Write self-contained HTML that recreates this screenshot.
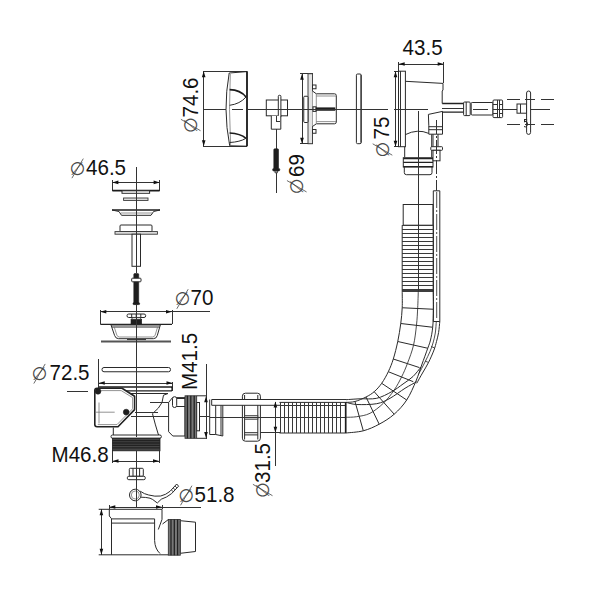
<!DOCTYPE html>
<html lang="en">
<head>
<meta charset="utf-8">
<title>Bath waste and overflow set - dimensional drawing</title>
<style>
html,body{margin:0;padding:0;background:#fff;}
body{width:600px;height:601px;overflow:hidden;}
svg{display:block;}
.l{fill:none;stroke:#2a2a2a;stroke-width:1;}
.w{fill:#fff;stroke:#2a2a2a;stroke-width:1;}
.g{fill:none;stroke:#777;stroke-width:0.8;}
.c{fill:none;stroke:#3a3a3a;stroke-width:1;shape-rendering:crispEdges;}
.n{fill:none;stroke:#333;stroke-width:1;shape-rendering:crispEdges;}
.nc{fill:none;stroke:#2c2c2c;stroke-width:0.85;}
.m{fill:none;stroke:#222;stroke-width:1.3;}
.gk{fill:none;stroke:#555;stroke-width:2;}
.wk{fill:#fff;stroke:#222;stroke-width:1.6;stroke-linejoin:round;}
.k{fill:none;stroke:#1c1c1c;stroke-width:1.7;}
.b{fill:#1e1e1e;stroke:#1e1e1e;stroke-width:0.6;}
.th{fill:#787878;stroke:#2a2a2a;stroke-width:0.8;}
.f{fill:#e4e4e4;stroke:#333;stroke-width:0.9;}
.a{fill:#111;stroke:none;}
.ds{fill:none;stroke:#444;stroke-width:0.8;}
.td{fill:#454545;stroke:#1c1c1c;stroke-width:0.8;}
.tx{font-family:"Liberation Sans",Arial,Helvetica,sans-serif;fill:#111;}
.dia{font-family:"DejaVu Sans","Liberation Sans",sans-serif;fill:#4a4a4a;}
</style>
</head>
<body>
<svg width="600" height="601" viewBox="0 0 600 601" role="img" aria-label="Exploded dimensional drawing of a bath waste and overflow set">
<rect x="0" y="0" width="600" height="601" fill="#fff"/>
<g id="knob">
<path class="n" d="M202.5,71.3 H247 M202.5,146.3 H247"/>
<path class="n" d="M203.7,71.3 V146.3"/>
<polygon class="a" points="203.70,71.30 201.90,77.30 205.50,77.30"/>
<polygon class="a" points="203.70,146.30 201.90,140.30 205.50,140.30"/>
<path class="l" d="M229.2,73 L247,71.6 V146.2 L229.7,145.8 Q222.6,109.5 229.2,73 Z"/>
<path class="g" d="M230.3,74 Q228.6,109.5 230.6,145"/>
<path class="k" d="M247,71.3 V146.3"/>
<path class="k" d="M229.6,89.7 Q240.5,90 246,97"/>
<path class="l" d="M246,97 Q240,104 229.6,105.3"/>
<path class="k" d="M229.6,133 Q240.5,133.5 246,138.3"/>
<path class="l" d="M246,138.3 Q240,142 229.6,142.5"/>
<g transform="translate(190.70 125.00) rotate(-90)"><text class="dia" x="-7.84" y="6.30" font-size="18">∅</text><path class="ds" d="M-5.7,9.8 L5.7,-9.8"/></g>
<text class="tx" transform="translate(198.30 117.50) rotate(-90) scale(1 1.045)" font-size="20.6">74.6</text>
</g>
<g id="clip">
<rect class="w" x="266.30" y="100.00" width="21.20" height="15.80"/>
<rect class="w" x="278.30" y="95.30" width="2.60" height="22.20" rx="1.00"/>
<path class="w" d="M271.3,115.8 V129.2 H280.8 V115.8"/>
<path class="n" d="M276,116 V121 H279.5"/>
<path class="n" d="M266.3,109 H287.5"/>
<path class="n" d="M276.2,129.2 V148.5 M276.2,172 V192.5"/>
<rect class="b" x="273.80" y="148.80" width="4.70" height="20.20" rx="1.00"/>
<rect class="b" x="272.60" y="168.40" width="7.20" height="2.60" rx="1.20"/>
<path class="f" d="M275,171 H277.4 V172.8 H275 Z"/>
</g>
<g id="flange69">
<path class="n" d="M300,73.75 H312.5 M300,143.75 H312.5"/>
<path class="n" d="M302,73.75 V143.75"/>
<polygon class="a" points="302.00,73.75 300.20,79.75 303.80,79.75"/>
<polygon class="a" points="302.00,143.75 300.20,137.75 303.80,137.75"/>
<rect class="f" x="308.00" y="73.75" width="4.50" height="70.00"/>
<rect class="w" x="303.75" y="96.25" width="4.25" height="26.25" rx="1.00"/>
<path class="w" d="M312.5,91 L316.3,93.8 H334.5 Q336.3,93.8 336.3,95.5 V122 Q336.3,123.8 334.5,123.8 H316.3 L312.5,126.5"/>
<path class="g" d="M316.3,93.8 V123.8 M316.3,96 H336 M316.3,121.6 H336"/>
<rect class="w" x="312.50" y="85.00" width="3.50" height="3.75"/>
<rect class="w" x="312.50" y="129.50" width="3.50" height="3.75"/>
<rect class="w" x="313.00" y="106.80" width="3.00" height="4.60"/>
<rect class="b" x="316.00" y="107.80" width="19.00" height="2.60"/>
<path class="n" d="M303.75,109 H336"/>
<g transform="translate(296.75 186.25) rotate(-90)"><text class="dia" x="-7.84" y="6.30" font-size="18">∅</text><path class="ds" d="M-5.7,9.8 L5.7,-9.8"/></g>
<text class="tx" transform="translate(304.00 177.00) rotate(-90) scale(1 1.045)" font-size="20.6">69</text>
</g>
<g id="gasket">
<rect class="w" x="356.40" y="74.00" width="4.80" height="69.70" rx="1.20"/>
<path class="l" d="M361,75 V142.7"/>
<path class="n" d="M356,109 H362"/>
</g>
<g id="overflow">
<text class="tx" transform="translate(402.60 55.00) scale(1 1.045)" font-size="20.6">43.5</text>
<path class="n" d="M398.7,61.7 V71.2 M443.7,61.7 V83.3"/>
<path class="n" d="M398.7,64 H443.7"/>
<polygon class="a" points="398.70,64.00 404.70,62.20 404.70,65.80"/>
<polygon class="a" points="443.70,64.00 437.70,62.20 437.70,65.80"/>
<g transform="translate(382.50 149.50) rotate(-90)"><text class="dia" x="-7.84" y="6.30" font-size="18">∅</text><path class="ds" d="M-5.7,9.8 L5.7,-9.8"/></g>
<text class="tx" transform="translate(389.20 139.50) rotate(-90) scale(1 1.045)" font-size="20.6">75</text>
<path class="n" d="M393.7,71.2 H399 M393.7,146.7 H399"/>
<path class="n" d="M395.5,71.2 V146.7"/>
<polygon class="a" points="395.50,71.20 393.70,77.20 397.30,77.20"/>
<polygon class="a" points="395.50,146.70 393.70,140.70 397.30,140.70"/>
<rect class="w" x="398.50" y="71.20" width="6.90" height="75.50"/>
<path class="n" d="M400.6,71.2 V146.7"/>
<path class="l" d="M405.4,81.3 L443,83.4 V90 L442.2,91 V103.5"/>
<path class="l" d="M405.4,134.6 Q417.5,128.5 428.8,133.4"/>
<path class="l" d="M404.7,146.7 V157.5 M431.7,134.2 V157.5"/>
<path class="w" d="M428.4,114.4 L442.5,111.4 V134.2 H428.8 V125.8 Z"/>
<path class="l" d="M428.8,126.7 H442.5 M428.8,129.7 H442.5"/>
<rect class="w" x="403.30" y="157.70" width="29.70" height="9.30"/>
<path class="m" d="M403.3,158.6 H433 M403.3,162.4 H433 M403.3,166.6 H433"/>
<path class="l" d="M404.3,167 V172.6 Q404.3,174.7 406.5,174.7 H430 Q432,174.7 432,172.6 V167"/>
<path class="l" d="M433,134.2 V146.7 M438,134.2 V146.7"/>
<rect class="w" x="430.80" y="146.70" width="11.70" height="3.60" rx="0.80"/>
<rect class="w" x="433.00" y="150.30" width="7.00" height="10.50"/>
<path class="n" d="M418.4,110.5 V225"/>
<path class="n" d="M436.7,120 V205" stroke-dasharray="14 2 2 2"/>
<path class="w" d="M433.3,321.5 V190.8 H439.8 V321.5"/>
<path class="nc" d="M436.7,192 V320" stroke-dasharray="16 2 2 2"/>
<rect class="l" x="403.20" y="204.50" width="29.80" height="20.70"/>
</g>
<g id="cable">
<path class="m" d="M442.2,103.5 H463.6 M442.2,112.2 H463.6"/>
<path class="n" d="M442.2,108.8 H463.6"/>
<rect class="w" x="463.60" y="102.00" width="6.60" height="13.60" rx="1.00"/>
<path class="l" d="M466.2,102 V115.6"/>
<rect class="w" x="471.20" y="102.50" width="21.80" height="12.50" rx="1.00"/>
<rect class="w" x="493.00" y="100.00" width="9.60" height="17.60" rx="1.00"/>
<path class="n" d="M497,100 V117.6 M499.2,100 V117.6 M493,104 H497 M499.2,104 H502.6 M493,113.2 H497 M499.2,113.2 H502.6"/>
<path class="n" d="M473,109 H488 M492.5,109 H550"/>
<rect class="w" x="517.00" y="104.00" width="9.60" height="9.20"/>
<path class="n" d="M520,104 V113.2"/>
<rect class="w" x="526.60" y="91.00" width="4.00" height="43.40" rx="2.00"/>
<path class="n" d="M507,99.3 H520 M525,99.3 H534.5 M541,99.3 H554"/>
<path class="n" d="M507,124.6 H520 M525,124.6 H534.5 M541,124.6 H554"/>
<path class="l" d="M524,122 Q527,120 527.5,124 Q527,128 524,126.5"/>
<rect class="l" x="524.50" y="119.50" width="2.10" height="2.00"/>
</g>
<g id="plug">
<g transform="translate(77.60 168.40)"><text class="dia" x="-7.84" y="6.30" font-size="18">∅</text><path class="ds" d="M-5.7,9.8 L5.7,-9.8"/></g>
<text class="tx" transform="translate(86.00 175.00) scale(1 1.045)" font-size="20.6">46.5</text>
<path class="n" d="M112.4,180 V190.6 M159.6,180 V190.6"/>
<path class="n" d="M112.4,182.4 H159.6"/>
<polygon class="a" points="112.40,182.40 118.40,180.60 118.40,184.20"/>
<polygon class="a" points="159.60,182.40 153.60,180.60 153.60,184.20"/>
<path class="k" d="M112.4,190.6 H159.6"/>
<rect class="w" x="122.00" y="190.80" width="27.60" height="2.50"/>
<rect class="f" x="123.60" y="198.00" width="24.40" height="2.40"/>
<path class="k" d="M112,210 H160"/>
<path class="l" d="M112,210 L119,211.5 L121.5,215.3 H151 L153.6,211.5 L160,210"/>
<path class="g" d="M121,213 H152"/>
<rect class="w" x="120.00" y="225.00" width="32.00" height="6.60" rx="1.00"/>
<rect class="f" x="115.00" y="231.60" width="42.40" height="2.60"/>
<rect class="w" x="132.00" y="234.20" width="8.50" height="32.10"/>
<rect class="b" x="133.80" y="273.50" width="4.90" height="30.80" rx="1.00"/>
<rect class="w" x="131.70" y="278.20" width="9.30" height="3.60" rx="0.80"/>
<rect class="b" x="133.00" y="302.80" width="6.60" height="1.80" rx="0.60"/>
</g>
<g id="strainer">
<g transform="translate(182.50 299.00)"><text class="dia" x="-7.84" y="6.30" font-size="18">∅</text><path class="ds" d="M-5.7,9.8 L5.7,-9.8"/></g>
<text class="tx" transform="translate(190.50 305.00) scale(1 1.045)" font-size="20.6">70</text>
<path class="n" d="M100.3,311.7 H210"/>
<polygon class="a" points="100.30,311.70 106.30,309.90 106.30,313.50"/>
<polygon class="a" points="172.00,311.70 166.00,309.90 166.00,313.50"/>
<path class="n" d="M100.3,309.5 V324.4 M172,309.5 V324.4"/>
<path class="m" d="M100.3,324.4 H172"/>
<rect class="w" x="127.00" y="314.00" width="18.70" height="3.50" rx="1.70"/>
<path class="l" d="M131.7,314 V317.5 M136.2,314 V317.5 M140.8,314 V317.5"/>
<rect class="b" x="131.00" y="319.40" width="10.70" height="4.80"/>
<rect class="f" x="132.00" y="317.40" width="8.70" height="2.00"/>
<path class="w" d="M111,325 L114.6,335.5 Q115.6,338.7 118.6,338.7 H153.4 Q156.4,338.7 157.3,335.5 L160.3,325 Z"/>
<path class="l" d="M112,327 H159.5"/>
<path class="g" d="M114.2,327 L116.8,335 Q117.5,337 119.5,337 H152.5 Q154.5,337 155.2,335 L157.6,327"/>
<path class="l" d="M127,339.6 H146"/>
<path class="gk" d="M101,341.6 H171"/>
<rect class="w" x="102.00" y="367.50" width="68.50" height="4.25" rx="2.00"/>
</g>
<g id="body">
<g transform="translate(39.50 373.75)"><text class="dia" x="-7.84" y="6.30" font-size="18">∅</text><path class="ds" d="M-5.7,9.8 L5.7,-9.8"/></g>
<text class="tx" transform="translate(49.50 380.00) scale(1 1.045)" font-size="20.6">72.5</text>
<path class="n" d="M98.75,358.75 V390 M172.5,381.5 V391"/>
<path class="n" d="M98.75,383 H172.5"/>
<polygon class="a" points="98.75,383.00 104.75,381.20 104.75,384.80"/>
<polygon class="a" points="172.50,383.00 166.50,381.20 166.50,384.80"/>
<path class="n" d="M67,391.25 H87.5"/>
<text class="tx" transform="translate(197.00 390.00) rotate(-90) scale(1 1.045)" font-size="20.6">M41.5</text>
<path class="n" d="M206,363.75 V438.5"/>
<polygon class="a" points="206.00,396.20 204.20,402.20 207.80,402.20"/>
<polygon class="a" points="206.00,438.00 204.20,432.00 207.80,432.00"/>
<path class="k" d="M99,387 H172.5"/>
<path class="m" d="M101,390.8 H171.5 Q173,389 171.5,387"/>
<path class="l" d="M129,393.5 H168"/>
<path class="l" d="M168,393.5 L163.5,395.2 L162,402.5 Q159.5,408 152.5,413.7 Q155,424 158.4,434.7"/>
<path class="n" d="M150,402.5 H168.5"/>
<path class="n" d="M135,412.2 H158 M130.5,416.2 H210"/>
<path class="wk" d="M97,388.2 H122 L134.6,396.2 V409.6 L118,426.8 H97 Q94.8,426.8 94.8,424.6 V390.4 Q94.8,388.2 97,388.2 Z"/>
<path class="g" d="M96,412.2 H114.7 M99,402.5 V423.5"/>
<path class="g" d="M97.5,390.6 H121.2 L132.6,397.6 V408.8 L117,424.6 H97.8"/>
<circle class="b" cx="98" cy="391.3" r="2.9"/>
<circle class="b" cx="126.2" cy="412.1" r="2.9"/>
<path class="l" d="M113.3,427.5 V435 M158.6,434 V435"/>
<rect class="w" x="111.00" y="435.00" width="50.40" height="3.20" rx="1.50"/>
<rect class="td" x="112.50" y="438.30" width="47.50" height="12.50"/>
<path class="m" d="M112.5,440.6 H160 M112.5,443 H160 M112.5,445.4 H160 M112.5,447.8 H160"/>
<path class="n" d="M112.5,450.8 V462.5 M159,450.8 V462.5"/>
<path class="n" d="M112.5,461 H159"/>
<polygon class="a" points="112.50,461.00 118.50,459.20 118.50,462.80"/>
<polygon class="a" points="159.00,461.00 153.00,459.20 153.00,462.80"/>
<text class="tx" transform="translate(51.50 461.50) scale(1 1.045)" font-size="20.6">M46.8</text>
<path class="w" d="M172.5,397.6 H185 V436 H172.8 L168.6,431.7 V402.5 Z"/>
<rect class="w" x="172.50" y="396.70" width="4.20" height="10.80" rx="2.00"/>
<path class="l" d="M176.7,398.5 H185 M176.7,406.5 H185"/>
<rect class="th" x="185.00" y="395.80" width="11.70" height="42.50"/>
<path class="m" d="M187.4,395.8 V438.3 M190.8,395.8 V438.3 M194.2,395.8 V438.3"/>
<path class="l" d="M196.7,395.8 H206 M196.7,438.3 H206"/>
<rect class="w" x="196.70" y="402.50" width="2.80" height="28.30"/>
</g>
<g id="pipe">
<path class="w" d="M209.7,399.5 V434.5 H215.7 L222.8,436 V405.2"/>
<path class="l" d="M215.7,405.2 V434.5 M221,405.2 V435.6"/>
<rect class="w" x="242.40" y="393.20" width="18.00" height="48.00" rx="3.00"/>
<path class="l" d="M244.6,395 V439.5 M257.8,395 V439.5"/>
<path class="l" d="M244.6,432.7 H257.8 M244.6,434.9 H257.8"/>
<rect class="f" x="244.60" y="415.70" width="13.20" height="3.50"/>
<path class="n" d="M210,417 H346"/>
<path class="w" d="M280,399.5 H211.7 V405.3 H280"/>
<path class="n" d="M280,399.4 H346 M280,405.6 H346"/>
<path class="n" d="M275.4,401.5 V466"/>
<polygon class="a" points="275.40,401.50 273.60,407.50 277.20,407.50"/>
<polygon class="a" points="275.40,432.70 273.60,426.70 277.20,426.70"/>
<path class="n" d="M260.4,432.7 H280"/>
<g transform="translate(262.70 490.00) rotate(-90)"><text class="dia" x="-7.84" y="6.30" font-size="18">∅</text><path class="ds" d="M-5.7,9.8 L5.7,-9.8"/></g>
<text class="tx" transform="translate(270.00 483.00) rotate(-90) scale(1 1.045)" font-size="20.6">31.5</text>
</g>
<g id="hose">
<path class="l" d="M279.5,402.4 H346 M279.5,433 H346"/>
<path class="c" d="M280.40,402.4 V433 M284.42,402.4 V433 M288.44,402.4 V433 M292.46,402.4 V433 M296.48,402.4 V433 M300.50,402.4 V433 M304.52,402.4 V433 M308.54,402.4 V433 M312.56,402.4 V433 M316.58,402.4 V433 M320.60,402.4 V433 M324.62,402.4 V433 M328.64,402.4 V433 M332.66,402.4 V433 M336.68,402.4 V433 M340.70,402.4 V433"/>
<path class="k" d="M345.7,402.4 V433"/>
<path class="l" d="M402.2,225.2 V291 M433.3,225.2 V291"/>
<path class="c" d="M402.2,225.20 H433.3 M402.2,229.20 H433.3 M402.2,233.20 H433.3 M402.2,237.20 H433.3 M402.2,241.20 H433.3 M402.2,245.20 H433.3 M402.2,249.20 H433.3 M402.2,253.20 H433.3 M402.2,257.20 H433.3 M402.2,261.20 H433.3 M402.2,265.20 H433.3 M402.2,269.20 H433.3 M402.2,273.20 H433.3 M402.2,277.20 H433.3 M402.2,281.20 H433.3 M402.2,285.20 H433.3 M402.2,289.20 H433.3"/>
<path class="k" d="M402.2,291 H433.3"/>
<path class="n" d="M418.5,225 V291"/>
<path class="l" d="M402.20,291.00 C402.20,293.79 402.44,302.33 402.20,307.75 C401.96,313.17 401.49,317.88 400.75,323.50 C400.01,329.12 398.99,335.58 397.75,341.50 C396.51,347.42 394.88,353.97 393.30,359.00 C391.73,364.03 390.23,367.65 388.30,371.70 C386.37,375.75 384.05,379.97 381.70,383.30 C379.35,386.63 376.82,389.42 374.20,391.70 C371.58,393.98 369.20,395.37 366.00,397.00 C362.80,398.63 358.33,400.60 355.00,401.50 C351.67,402.40 347.50,402.25 346.00,402.40"/>
<path class="nc" d="M418.30,291.00 C418.20,293.79 418.00,302.08 417.70,307.75 C417.40,313.42 417.20,318.75 416.50,325.00 C415.80,331.25 415.00,338.87 413.50,345.25 C412.00,351.63 409.47,358.06 407.50,363.30 C405.53,368.54 403.92,372.25 401.70,376.70 C399.48,381.15 397.27,385.57 394.20,390.00 C391.13,394.43 387.33,399.42 383.30,403.30 C379.27,407.18 374.43,411.07 370.00,413.30 C365.57,415.53 360.70,416.03 356.70,416.70 C352.70,417.37 347.78,417.20 346.00,417.30"/>
<path class="l" d="M433.30,291.00 C433.33,294.04 433.60,303.21 433.50,309.25 C433.40,315.29 433.20,322.12 432.70,327.25 C432.20,332.38 431.32,336.50 430.50,340.00 C429.68,343.50 429.22,344.08 427.75,348.25 C426.28,352.42 423.66,359.54 421.70,365.00 C419.74,370.46 418.50,375.17 416.00,381.00 C413.50,386.83 410.33,394.47 406.70,400.00 C403.07,405.53 398.78,410.17 394.20,414.20 C389.62,418.23 384.35,421.43 379.20,424.20 C374.05,426.97 368.83,429.33 363.30,430.80 C357.77,432.27 348.88,432.63 346.00,433.00"/>
<path class="l" d="M402.20,307.75 L433.50,309.25 M400.75,323.50 L432.70,327.25 M397.75,341.50 L427.75,348.25 M393.30,359.00 L419.50,367.60 M388.30,371.70 L413.30,381.70 M381.70,383.30 L406.70,400.00 M374.20,391.70 L394.20,414.20 M366.00,397.00 L379.20,424.20 M355.00,401.50 L363.30,430.80"/>
<path class="l" d="M439.80,321.50 C439.60,323.33 439.15,329.17 438.60,332.50 C438.05,335.83 437.27,338.58 436.50,341.50 C435.73,344.42 435.33,346.50 434.00,350.00 C432.67,353.50 430.42,358.67 428.50,362.50 C426.58,366.33 424.47,369.53 422.50,373.00 C420.53,376.47 417.67,381.58 416.70,383.30"/>
<path class="nc" d="M436.30,321.50 C436.13,323.42 435.85,329.42 435.30,333.00 C434.75,336.58 433.88,339.92 433.00,343.00 C432.12,346.08 431.33,348.33 430.00,351.50 C428.67,354.67 426.83,358.33 425.00,362.00 C423.17,365.67 420.00,371.58 419.00,373.50"/>
<path class="l" d="M433.3,321.5 H439.8"/>
<path class="nc" d="M428.5,362.5 L425,361 M434.8,348 L431,346.5"/>
<path class="l" d="M346.00,399.70 C348.33,399.55 354.88,399.03 360.00,398.80 C365.12,398.57 371.42,399.48 376.70,398.30 C381.98,397.12 387.32,394.08 391.70,391.70 C396.08,389.32 399.45,386.53 403.00,384.00 C406.55,381.47 410.00,379.33 413.00,376.50 C416.00,373.67 419.67,368.58 421.00,367.00"/>
<path class="l" d="M346.00,402.30 C347.78,402.67 351.58,404.27 356.70,404.50 C361.82,404.73 371.15,404.73 376.70,403.70 C382.25,402.67 385.28,400.87 390.00,398.30 C394.72,395.73 400.55,391.07 405.00,388.30 C409.45,385.53 414.75,382.80 416.70,381.70"/>
</g>
<g id="nut">
<rect class="w" x="129.30" y="468.30" width="14.00" height="8.00" rx="1.00"/>
<rect class="w" x="127.30" y="476.30" width="18.00" height="3.40" rx="1.50"/>
<path class="l" d="M133,468.3 V476.3 M139.6,468.3 V476.3"/>
<path class="n" d="M136.2,468.3 V479.7"/>
</g>
<g id="spring">
<circle class="l" cx="135.3" cy="495" r="5.8"/>
<circle class="g" cx="135.3" cy="495" r="4"/>
<path class="n" d="M136.2,489 V501"/>
<path class="l" d="M140.2,491.2 Q144.5,494.2 148.7,495 Q155,496.8 160.7,496 Q166,494.8 170,491.3 L176.7,484 L178.6,486.2"/>
<path class="l" d="M140.8,497.2 Q146,497.2 150,498.2 L152.7,499.5 L157.3,503 L161.3,499.2 Q166.5,497.6 171.6,493.6 L178.6,486.2"/>
<path class="nc" d="M171.5,490 L173.5,492 M173.3,488 L175.3,490 M175,486 L177,488"/>
</g>
<g id="trap">
<g transform="translate(186.25 495.50)"><text class="dia" x="-7.84" y="6.30" font-size="18">∅</text><path class="ds" d="M-5.7,9.8 L5.7,-9.8"/></g>
<text class="tx" transform="translate(194.50 501.75) scale(1 1.045)" font-size="20.6">51.8</text>
<path class="n" d="M109.3,507 H201.3"/>
<polygon class="a" points="109.30,507.00 115.30,505.20 115.30,508.80"/>
<polygon class="a" points="162.00,507.00 156.00,505.20 156.00,508.80"/>
<path class="n" d="M101.4,509.3 V554.8"/>
<polygon class="a" points="101.40,509.30 99.60,515.30 103.20,515.30"/>
<polygon class="a" points="101.40,554.80 99.60,548.80 103.20,548.80"/>
<path class="l" d="M98.7,509.3 H162 M98.7,554.8 H158.3"/>
<path class="n" d="M109.3,505 V509.3 M162,505 V509.3"/>
<path class="l" d="M109.3,509.3 V516 L111.5,518.7 V554.8"/>
<path class="l" d="M162,509.3 V519.4 L158.3,529.5"/>
<path class="l" d="M111.5,518.9 H154.6 M111.5,523.1 H154.6"/>
<path class="l" d="M154.6,518.9 V540.5 Q155,549 160,553.5"/>
<path class="l" d="M162.5,524 L168.3,519.6"/>
<path class="l" d="M158.3,554.8 L168.3,554.8"/>
<rect class="th" x="168.30" y="519.40" width="12.00" height="35.80"/>
<path class="m" d="M171,519.4 V555.2 M174.3,519.4 V555.2 M177.6,519.4 V555.2"/>
<path class="w" d="M180.3,520.7 L195.5,522.2 V551.5 L180.3,553.3 Z"/>
</g>
<path class="n" d="M136.2,167 V273 M136.2,305 V437 M136.2,451 V507"/>
<path class="n" d="M203.7,109 H225.5 M232,109 H243 M247,109 H387.5 M393.5,109 H428"/>
</svg>
</body>
</html>
